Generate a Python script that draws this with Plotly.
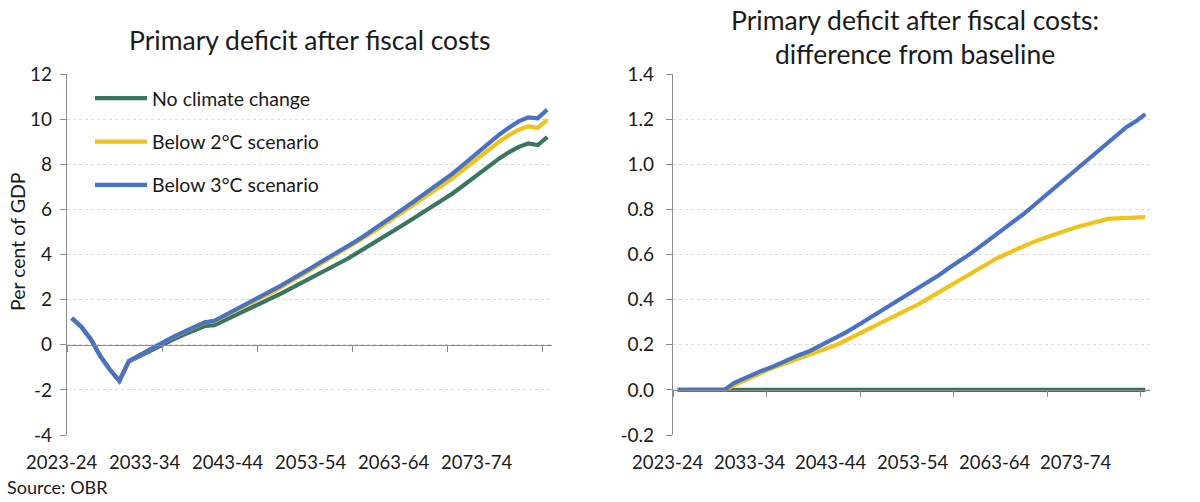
import plotly.graph_objects as go

# ---------------- data ----------------
years = ["2023-24", "2024-25", "2025-26", "2026-27", "2027-28", "2028-29", "2029-30",
         "2030-31", "2031-32", "2032-33", "2033-34", "2034-35", "2035-36", "2036-37",
         "2037-38", "2038-39", "2039-40", "2040-41", "2041-42", "2042-43", "2043-44",
         "2044-45", "2045-46", "2046-47", "2047-48", "2048-49", "2049-50", "2050-51",
         "2051-52", "2052-53", "2053-54", "2054-55", "2055-56", "2056-57", "2057-58",
         "2058-59", "2059-60", "2060-61", "2061-62", "2062-63", "2063-64", "2064-65",
         "2065-66", "2066-67", "2067-68", "2068-69", "2069-70", "2070-71", "2071-72",
         "2072-73", "2073-74"]

tick_labels = ["2023-24", "2033-34", "2043-44", "2053-54", "2063-64", "2073-74"]

# Left panel: primary deficit after fiscal costs (per cent of GDP)
no_climate = [1.18, 0.80, 0.25, -0.50, -1.10, -1.60, -0.75, -0.53, -0.33, -0.13,
              0.09, 0.30, 0.48, 0.68, 0.83, 0.87, 1.07, 1.27, 1.45, 1.67,
              1.85, 2.02, 2.27, 2.49, 2.70, 2.93, 3.16, 3.38, 3.59, 3.81,
              4.06, 4.31, 4.56, 4.82, 5.08, 5.35, 5.62, 5.88, 6.15, 6.41,
              6.69, 7.00, 7.33, 7.66, 7.98, 8.27, 8.54, 8.77, 8.92, 8.85,
              9.20]
below_2c = [1.18, 0.80, 0.25, -0.50, -1.10, -1.60, -0.73, -0.49, -0.27, -0.05,
            0.19, 0.41, 0.61, 0.82, 0.99, 1.04, 1.26, 1.47, 1.67, 1.91,
            2.11, 2.30, 2.57, 2.81, 3.04, 3.29, 3.55, 3.79, 4.03, 4.27,
            4.54, 4.82, 5.09, 5.37, 5.66, 5.95, 6.24, 6.52, 6.80, 7.08,
            7.37, 7.70, 8.04, 8.39, 8.71, 9.02, 9.29, 9.53, 9.68, 9.61,
            9.97]
below_3c = [1.18, 0.80, 0.25, -0.50, -1.10, -1.60, -0.72, -0.48, -0.26, -0.04,
            0.19, 0.42, 0.62, 0.83, 1.00, 1.06, 1.28, 1.50, 1.70, 1.95,
            2.15, 2.35, 2.62, 2.87, 3.10, 3.36, 3.62, 3.86, 4.10, 4.35,
            4.62, 4.90, 5.18, 5.47, 5.76, 6.06, 6.36, 6.66, 6.96, 7.26,
            7.57, 7.92, 8.28, 8.65, 9.00, 9.33, 9.63, 9.90, 10.08, 10.04,
            10.42]

# Right panel: difference from baseline
diff_no_climate = [0.0] * 51
diff_2c = [0, 0, 0, 0, 0, 0, 0.02, 0.04, 0.06, 0.08,
           0.095, 0.11, 0.125, 0.14, 0.155, 0.17, 0.185, 0.20, 0.22, 0.24,
           0.26, 0.28, 0.30, 0.32, 0.34, 0.36, 0.385, 0.41, 0.435, 0.46,
           0.485, 0.51, 0.535, 0.555, 0.58, 0.60, 0.62, 0.64, 0.655, 0.67,
           0.685, 0.70, 0.713, 0.725, 0.737, 0.748, 0.758, 0.76, 0.762, 0.762,
           0.766]
diff_3c = [0, 0, 0, 0, 0, 0, 0.03, 0.05, 0.07, 0.085,
           0.10, 0.12, 0.14, 0.155, 0.17, 0.19, 0.21, 0.23, 0.255, 0.28,
           0.305, 0.33, 0.355, 0.38, 0.405, 0.43, 0.46, 0.485, 0.51, 0.54,
           0.565, 0.595, 0.625, 0.655, 0.685, 0.715, 0.745, 0.78, 0.815, 0.85,
           0.885, 0.92, 0.955, 0.99, 1.025, 1.06, 1.095, 1.13, 1.165, 1.19,
           1.222]

left_yticks = [-4, -2, 0, 2, 4, 6, 8, 10, 12]
right_yticks = [-0.2, 0.0, 0.2, 0.4, 0.6, 0.8, 1.0, 1.2, 1.4]

series_names = ["No climate change", "Below 2°C scenario", "Below 3°C scenario"]

# ---------------- styling ----------------
W, H = 1200, 502
FONT = "Lato"
TXT = "#1a1a1a"
AXC = "#8c8c8c"
GRID = "#d9d9d9"
colors = ["#3a7561", "#efc31c", "#4a72c4"]
LW = 4.2

x_idx = list(range(len(years)))
XR = [-0.5, 50.5]

yb, yt = 1 - 435 / H, 1 - 74 / H
left_dom = [67 / W, 552 / W]
right_dom = [673 / W, 1150 / W]
left_range = [-4, 12]
right_range = [-0.2, 1.4]


def zero_pos(rng):
    return yb + (0 - rng[0]) / (rng[1] - rng[0]) * (yt - yb)


def to_paper(v, dom):
    return dom[0] + (v - XR[0]) / (XR[1] - XR[0]) * (dom[1] - dom[0])


fig = go.Figure()

for name, vals, col in zip(series_names, [no_climate, below_2c, below_3c], colors):
    fig.add_trace(go.Scatter(
        x=x_idx, y=vals, mode="lines", name=name, customdata=years,
        hovertemplate="%{customdata}: %{y:.2f}<extra>" + name + "</extra>",
        line=dict(color=col, width=LW), xaxis="x", yaxis="y",
        legendgroup=name, showlegend=True))

for name, vals, col in zip(series_names, [diff_no_climate, diff_2c, diff_3c], colors):
    fig.add_trace(go.Scatter(
        x=x_idx, y=vals, mode="lines", name=name, customdata=years,
        hovertemplate="%{customdata}: %{y:.2f}<extra>" + name + "</extra>",
        line=dict(color=col, width=LW), xaxis="x2", yaxis="y2",
        legendgroup=name, showlegend=False))

xcommon = dict(range=XR, showgrid=False, zeroline=False, showline=True,
               linecolor=AXC, linewidth=1.3, ticks="outside", ticklen=6,
               tickcolor=AXC, tickwidth=1.2, tickmode="linear", tick0=-0.5,
               dtick=10, showticklabels=False, anchor="free", fixedrange=True,
               automargin=False)
ycommon = dict(showgrid=True, gridcolor=GRID, griddash="dot", gridwidth=1,
               zeroline=False, showline=True, linecolor=AXC, linewidth=1.3,
               ticks="outside", ticklen=6, tickcolor=AXC, tickwidth=1.2,
               tickfont=dict(family=FONT, size=19, color=TXT),
               domain=[yb, yt], fixedrange=True, automargin=False)

fig.update_layout(
    width=W, height=H,
    margin=dict(l=0, r=0, t=0, b=0, autoexpand=False),
    paper_bgcolor="white", plot_bgcolor="white",
    font=dict(family=FONT, size=18, color=TXT),
    xaxis=dict(domain=left_dom, position=zero_pos(left_range), **xcommon),
    xaxis2=dict(domain=right_dom, position=zero_pos(right_range), **xcommon),
    yaxis=dict(range=left_range, anchor="x", tickmode="array",
               tickvals=left_yticks,
               ticktext=[str(v) for v in left_yticks],
               ticklabelstandoff=4, **ycommon),
    yaxis2=dict(range=right_range, anchor="x2", tickmode="array",
                tickvals=right_yticks,
                ticktext=[f"{v:.1f}" for v in right_yticks],
                ticklabelstandoff=8, **ycommon),
    legend=dict(x=90 / W, y=1 - 79 / H, xanchor="left", yanchor="top",
                bgcolor="rgba(0,0,0,0)", font=dict(family=FONT, size=19.5, color=TXT),
                itemwidth=52, tracegroupgap=15, traceorder="grouped"),
    showlegend=True,
)

annotations = []
# Category tick labels (placed as in the reference, spaced slightly tighter than the ticks)
LABEL_START, LABEL_STEP = -1.03, 8.73
for dom in [left_dom, right_dom]:
    for k, lab in enumerate(tick_labels):
        annotations.append(dict(
            x=to_paper(LABEL_START + LABEL_STEP * k, dom), y=yb, xref="paper",
            yref="paper", text=lab, showarrow=False, xanchor="center",
            yanchor="top", yshift=-14,
            font=dict(family=FONT, size=18.5, color=TXT)))

# Titles
annotations.append(dict(x=310 / W, y=1 - 40 / H, xref="paper",
                        yref="paper", text="Primary deficit after fiscal costs",
                        showarrow=False, xanchor="center", yanchor="middle",
                        font=dict(family=FONT, size=26.5, color=TXT)))
annotations.append(dict(x=915 / W, y=1 - 37 / H, xref="paper", yref="paper",
                        text="Primary deficit after fiscal costs:<br>difference from baseline",
                        showarrow=False, xanchor="center", yanchor="middle",
                        font=dict(family=FONT, size=26.5, color=TXT)))
# Y axis title
annotations.append(dict(x=17 / W, y=1 - 242 / H, xref="paper", yref="paper",
                        text="Per cent of GDP", textangle=-90, showarrow=False,
                        xanchor="center", yanchor="middle",
                        font=dict(family=FONT, size=19.5, color=TXT)))
# Source
annotations.append(dict(x=5 / W, y=1 - 487 / H, xref="paper", yref="paper",
                        text="Source: OBR", showarrow=False, xanchor="left",
                        yanchor="middle", font=dict(family=FONT, size=18, color=TXT)))

fig.update_layout(annotations=annotations)

fig.write_html("out.html", config={"displayModeBar": False},
               post_script="document.body.style.margin='0';document.body.style.overflow='hidden';")
